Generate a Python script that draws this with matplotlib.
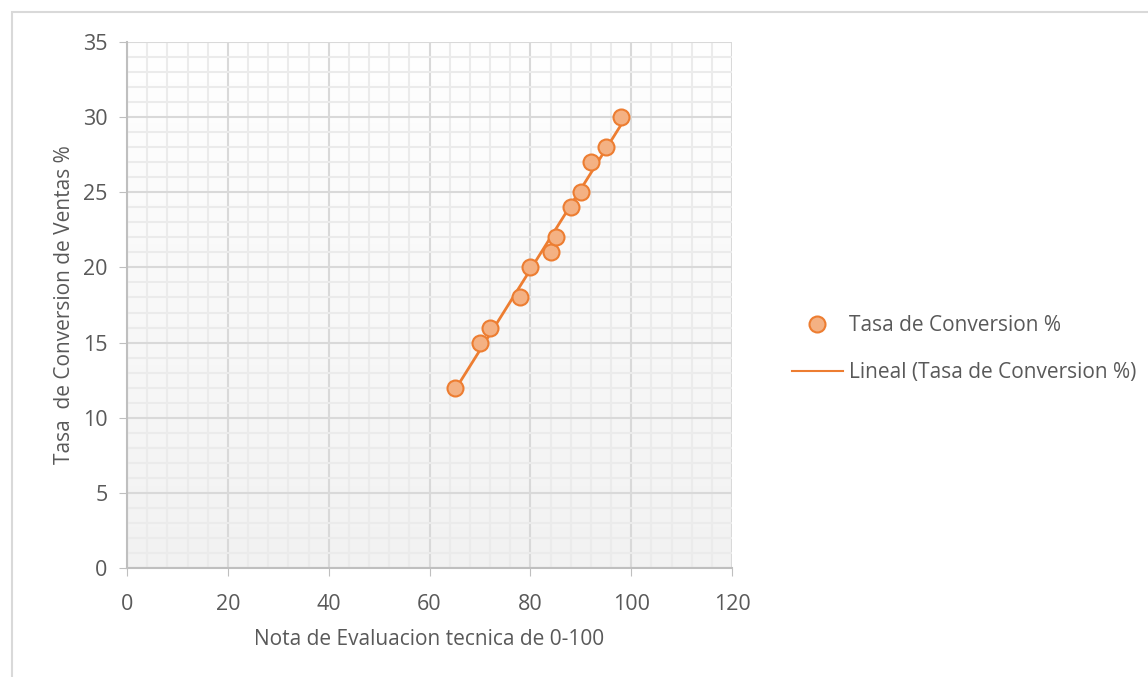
import numpy as np
import matplotlib as mpl
mpl.use('Agg')
import matplotlib.pyplot as plt
from matplotlib.lines import Line2D
from matplotlib.patches import Rectangle

# data
nota = [65, 70, 72, 78, 80, 84, 85, 88, 90, 92, 95, 98]
tasa = [12, 15, 16, 18, 20, 21, 22, 24, 25, 27, 28, 30]
xticks = [0, 20, 40, 60, 80, 100, 120]
yticks = [0, 5, 10, 15, 20, 25, 30, 35]

plt.rcParams['font.family'] = ['Open Sans', 'DejaVu Sans']
txt = '#595959'
orange = '#ED7D31'

fig = plt.figure(figsize=(11.48, 6.77), dpi=100)
# chart border (only left and top visible in the crop)
fig.patches.append(Rectangle((12/1148, -0.05), 1.1, 1.05 - 12/677, transform=fig.transFigure,
                             fill=False, edgecolor='#d9d9d9', linewidth=1.5))

ax = fig.add_axes([127/1148, 109/677, 605/1148, 526/677])
ax.set_xlim(0, 120)
ax.set_ylim(0, 35)

# gradient background
grad = np.linspace(0, 1, 256).reshape(-1, 1)
cm = mpl.colors.LinearSegmentedColormap.from_list('bg', ['#f2f2f2', '#ffffff'])
ax.imshow(grad, extent=[0, 120, 0, 35], origin='lower', aspect='auto', cmap=cm, zorder=0)

ax.set_xticks(xticks)
ax.set_yticks(yticks)
ax.set_xticks(np.arange(0, 121, 4), minor=True)
ax.set_yticks(np.arange(0, 36, 1), minor=True)
ax.grid(which='minor', color='#ebebeb', linewidth=1.5, zorder=1)
ax.grid(which='major', color='#d9d9d9', linewidth=1.5, zorder=1)
ax.set_axisbelow(True)
ax.tick_params(which='minor', length=0)
ax.tick_params(which='major', length=6, color='#bfbfbf', labelsize=15.5, labelcolor=txt)
ax.tick_params(axis='x', pad=13)
ax.tick_params(axis='y', pad=8)

for s in ['top', 'right']:
    ax.spines[s].set_visible(False)
for s in ['left', 'bottom']:
    ax.spines[s].set_color('#bfbfbf')
    ax.spines[s].set_linewidth(1.5)

# linear trendline
m, b = np.polyfit(nota, tasa, 1)
xs = np.array([min(nota), max(nota)])
ax.plot(xs, m * xs + b, color=orange, linewidth=2, zorder=3)
ax.plot(nota, tasa, 'o', markersize=11.5, markerfacecolor='#F4B183',
        markeredgecolor=orange, markeredgewidth=1.5, zorder=4)

ax.set_xlabel('Nota de Evaluacion tecnica de 0-100', fontsize=15, color=txt, labelpad=10)
ax.set_ylabel('Tasa  de Conversion de Ventas %', fontsize=15, color=txt, labelpad=6)

handles = [Line2D([], [], marker='o', linestyle='none', markersize=11.5, markerfacecolor='#F4B183',
                  markeredgecolor=orange, markeredgewidth=1.5),
           Line2D([], [], color=orange, linewidth=1.5)]
fig.legend(handles, ['Tasa de Conversion %', 'Lineal (Tasa de Conversion %)'],
           loc='center left', bbox_to_anchor=(773/1148, 1 - 349/677), frameon=False,
           fontsize=15, labelcolor=txt, handlelength=2.45, handletextpad=0.3, labelspacing=1.25)

fig.savefig('out.png', dpi=100)
